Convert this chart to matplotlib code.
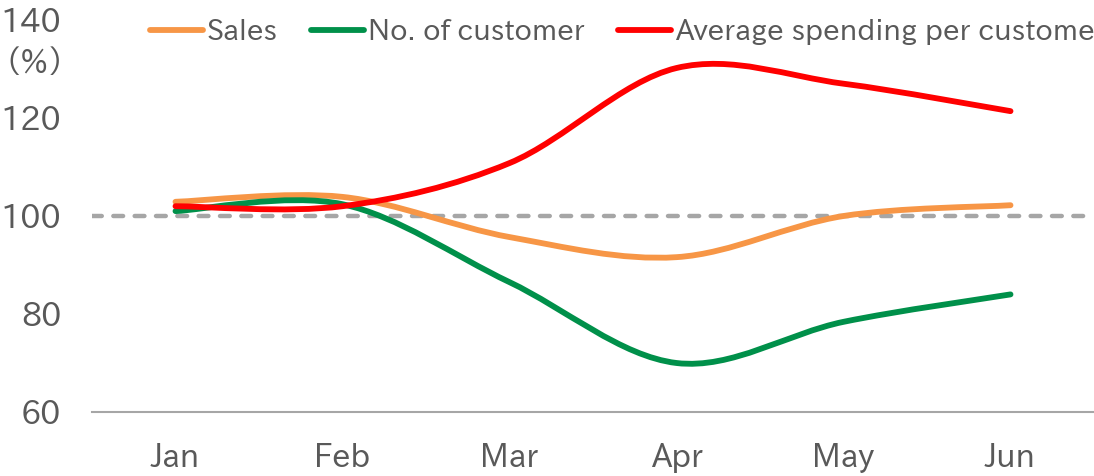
import matplotlib
matplotlib.use("Agg")
import matplotlib.pyplot as plt
from matplotlib.path import Path
from matplotlib.patches import PathPatch
from matplotlib.lines import Line2D
import numpy as np

months = ["Jan", "Feb", "Mar", "Apr", "May", "Jun"]
sales = [102.9, 103.9, 95.7, 91.6, 100.0, 102.2]
customers = [101.0, 102.4, 86.5, 70.0, 78.4, 84.0]
avg_spend = [102.0, 102.0, 110.8, 130.2, 127.0, 121.4]
yticks = [60, 80, 100, 120, 140]

plt.rcParams['font.family'] = ["IPAPGothic", "DejaVu Sans"]

TXT = "#595959"

fig = plt.figure(figsize=(10.94, 4.76), dpi=100)
ax = fig.add_axes([92/1094, (476-412)/476, 1 - 92/1094, 392/476])
ax.set_xlim(-0.5, 5.5)
ax.set_ylim(60, 140)


def smooth_path(xs, ys):
    xs = np.asarray(xs, float)
    ys = np.asarray(ys, float)
    n = len(xs)
    verts = [(xs[0], ys[0])]
    codes = [Path.MOVETO]
    for i in range(n - 1):
        p0 = (xs[max(i - 1, 0)], ys[max(i - 1, 0)])
        p1 = (xs[i], ys[i])
        p2 = (xs[i + 1], ys[i + 1])
        p3 = (xs[min(i + 2, n - 1)], ys[min(i + 2, n - 1)])
        c1 = (p1[0] + (p2[0] - p0[0]) / 6, p1[1] + (p2[1] - p0[1]) / 6)
        c2 = (p2[0] - (p3[0] - p1[0]) / 6, p2[1] - (p3[1] - p1[1]) / 6)
        verts += [c1, c2, p2]
        codes += [Path.CURVE4] * 3
    return Path(verts, codes)


ax.axhline(100, color="#A6A6A6", lw=3.2, ls=(0, (2.2, 2.6)), dash_capstyle="round", zorder=1)

x = np.arange(len(months))
series = [(sales, "#F79646", "Sales"),
          (customers, "#00904A", "No. of customer"),
          (avg_spend, "#FF0000", "Average spending per customer")]
handles = []
for ys, col, lab in series:
    patch = PathPatch(smooth_path(x, ys), facecolor="none", edgecolor=col, lw=4.2,
                      capstyle="round", zorder=3)
    ax.add_patch(patch)
    handles.append(Line2D([], [], color=col, lw=4.2, solid_capstyle="round", label=lab))

for s in ["top", "right", "left"]:
    ax.spines[s].set_visible(False)
ax.spines["bottom"].set_color("#A6A6A6")
ax.spines["bottom"].set_linewidth(1.5)

ax.set_xticks(x)
ax.set_xticklabels(months)
ax.set_yticks(yticks)
ax.set_yticklabels([str(v) for v in yticks])
ax.tick_params(axis="both", length=0, labelsize=23, colors=TXT)
ax.tick_params(axis="x", pad=22)
ax.tick_params(axis="y", pad=22)

fig.text(3/1094, 1 - 64/476, "（%）", fontsize=23, color=TXT, va="center", ha="left")

leg = ax.legend(handles=handles, loc="center left", bbox_to_anchor=(150/1094, 1 - 32/476),
                bbox_transform=fig.transFigure, ncol=3, frameon=False, fontsize=21,
                handlelength=1.8, handletextpad=0.15, columnspacing=1.15, borderpad=0,
                borderaxespad=0, labelcolor=TXT)

fig.savefig("out.png", dpi=100)
